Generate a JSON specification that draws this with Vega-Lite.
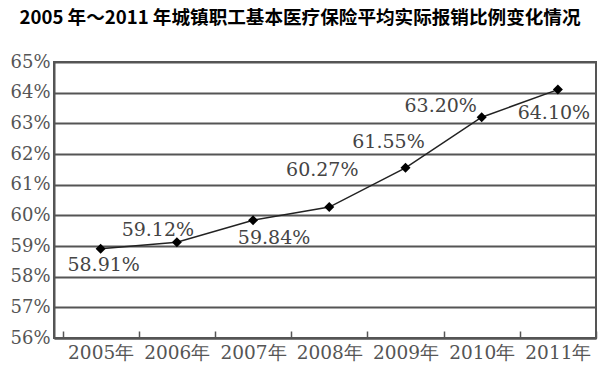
{
  "$schema": "https://vega.github.io/schema/vega-lite/v6.json",
  "width": 542,
  "height": 276,
  "autosize": "none",
  "padding": {"left": 54, "top": 62, "right": 11, "bottom": 32},
  "background": "white",
  "title": {
    "text": "2005 年～2011 年城镇职工基本医疗保险平均实际报销比例变化情况",
    "font": "Noto Sans CJK SC",
    "fontSize": 18.6,
    "fontWeight": "bold",
    "color": "#000000",
    "anchor": "middle",
    "frame": "group",
    "dx": -25,
    "offset": 25
  },
  "config": {
    "view": {"stroke": "#555555", "strokeWidth": 2},
    "axis": {
      "labelFont": "DejaVu Serif",
      "labelFontSize": 18,
      "labelColor": "#555555"
    }
  },
  "data": {
    "values": [
      {"year": "2005年", "rate": 58.91, "label": "58.91%"},
      {"year": "2006年", "rate": 59.12, "label": "59.12%"},
      {"year": "2007年", "rate": 59.84, "label": "59.84%"},
      {"year": "2008年", "rate": 60.27, "label": "60.27%"},
      {"year": "2009年", "rate": 61.55, "label": "61.55%"},
      {"year": "2010年", "rate": 63.20, "label": "63.20%"},
      {"year": "2011年", "rate": 64.10, "label": "64.10%"}
    ]
  },
  "encoding": {
    "x": {
      "field": "year",
      "type": "ordinal",
      "sort": null,
      "scale": {"type": "band", "paddingInner": 0, "paddingOuter": 0.056, "align": 1},
      "axis": {
        "title": null,
        "labelAngle": 0,
        "labelPadding": 12,
        "labelFontSize": 18.5,
        "tickBand": "extent",
        "ticks": true,
        "tickSize": -7,
        "tickColor": "#555555",
        "tickWidth": 1.5,
        "domainColor": "#555555",
        "domainWidth": 2,
        "grid": false
      }
    },
    "y": {
      "field": "rate",
      "type": "quantitative",
      "scale": {"domain": [56, 65], "nice": false, "zero": false},
      "axis": {
        "title": null,
        "values": [56, 57, 58, 59, 60, 61, 62, 63, 64, 65],
        "labelExpr": "datum.value + '%'",
        "ticks": false,
        "labelPadding": 4,
        "grid": true,
        "gridColor": "#555555",
        "gridWidth": 2,
        "domainColor": "#555555",
        "domainWidth": 2
      }
    }
  },
  "layer": [
    {"mark": {"type": "line", "color": "#222222", "strokeWidth": 1.5}},
    {"mark": {"type": "point", "shape": "diamond", "filled": true, "color": "#000000", "size": 100, "opacity": 1}},
    {
      "transform": [{"filter": "datum.year == '2005年'"}],
      "mark": {"type": "text", "font": "DejaVu Serif", "fontSize": 19, "color": "#444444", "dx": 3, "dy": 16},
      "encoding": {"text": {"field": "label"}}
    },
    {
      "transform": [{"filter": "datum.year == '2006年'"}],
      "mark": {"type": "text", "font": "DejaVu Serif", "fontSize": 19, "color": "#444444", "dx": -19, "dy": -12},
      "encoding": {"text": {"field": "label"}}
    },
    {
      "transform": [{"filter": "datum.year == '2007年'"}],
      "mark": {"type": "text", "font": "DejaVu Serif", "fontSize": 19, "color": "#444444", "dx": 21, "dy": 18},
      "encoding": {"text": {"field": "label"}}
    },
    {
      "transform": [{"filter": "datum.year == '2008年'"}],
      "mark": {"type": "text", "font": "DejaVu Serif", "fontSize": 19, "color": "#444444", "dx": -7, "dy": -37},
      "encoding": {"text": {"field": "label"}}
    },
    {
      "transform": [{"filter": "datum.year == '2009年'"}],
      "mark": {"type": "text", "font": "DejaVu Serif", "fontSize": 19, "color": "#444444", "dx": -17, "dy": -26},
      "encoding": {"text": {"field": "label"}}
    },
    {
      "transform": [{"filter": "datum.year == '2010年'"}],
      "mark": {"type": "text", "font": "DejaVu Serif", "fontSize": 19, "color": "#444444", "dx": -41, "dy": -11},
      "encoding": {"text": {"field": "label"}}
    },
    {
      "transform": [{"filter": "datum.year == '2011年'"}],
      "mark": {"type": "text", "font": "DejaVu Serif", "fontSize": 19, "color": "#444444", "dx": -4, "dy": 23},
      "encoding": {"text": {"field": "label"}}
    }
  ]
}
